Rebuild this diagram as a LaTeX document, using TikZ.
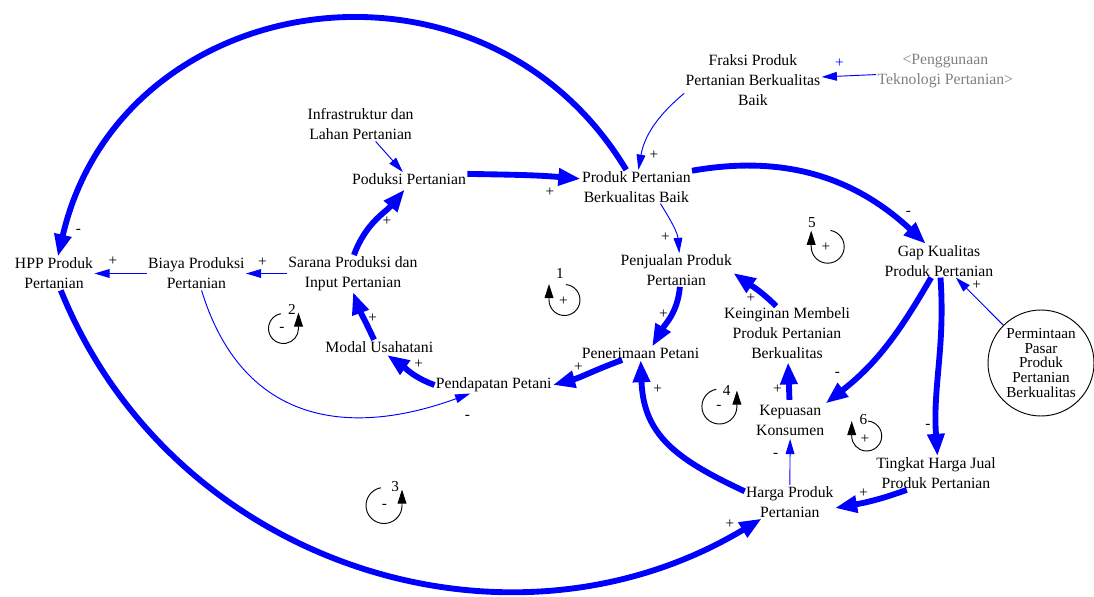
\documentclass[tikz,border=0pt]{standalone}
\usepackage{fontspec}
\setmainfont{Liberation Serif}
\usetikzlibrary{arrows.meta}
\definecolor{ghost}{RGB}{128,128,128}

\begin{document}
\begin{tikzpicture}[x=0.03cm,y=0.03cm,
  var/.style={align=center,inner sep=1pt,font=\fontsize{13.4}{17}\selectfont},
  sgn/.style={inner sep=0pt,font=\fontsize{13}{13}\selectfont},
  lnk/.style={blue,line width=0.8pt,-{Triangle[length=13pt,width=7.5pt]}},
  fat/.style={blue,line width=5pt,-{Triangle[length=19pt,width=14pt]}},
  loopar/.style={line width=0.8pt,-{Triangle[length=12pt,width=7.5pt]}}]
\useasboundingbox (0,0) rectangle (1094,-597);

% variables
\node[var] (hpp) at (54,-273.5) {HPP Produk\\Pertanian};
\node[var] (biaya) at (196.4,-273.5) {Biaya Produksi\\Pertanian};
\node[var] (sarana) at (353,-273.5) {Sarana Produksi dan\\Input Pertanian};
\node[var] (infra) at (360.6,-124.5) {Infrastruktur dan\\Lahan Pertanian};
\node[var] (prod) at (409,-179) {Poduksi Pertanian};
\node[var] (pb) at (636.3,-186.7) {Produk Pertanian\\Berkualitas Baik};
\node[var] (fraksi) at (752.9,-80) {Fraksi Produk\\Pertanian Berkualitas\\Baik};
\node[var,text=ghost] (tek) at (945.3,-71.5) {<Penggunaan\\Teknologi Pertanian>};
\node[var] (gap) at (939,-260.7) {Gap Kualitas\\Produk Pertanian};
\node[var] (jual) at (676.3,-270) {Penjualan Produk\\Pertanian};
\node[var] (terima) at (640.5,-353.3) {Penerimaan Petani};
\node[var] (ingin) at (787,-333) {Keinginan Membeli\\Produk Pertanian\\Berkualitas};
\node[var] (puas) at (790.2,-420) {Kepuasan\\Konsumen};
\node[var] (harga) at (789.8,-501.7) {Harga Produk\\Pertanian};
\node[var] (tingkat) at (936,-473) {Tingkat Harga Jual\\Produk Pertanian};
\node[var] (modal) at (379.3,-346.7) {Modal Usahatani};
\node[var] (dapat) at (493.7,-385) {Pendapatan Petani};
\node[draw,circle,line width=0.8pt,minimum size=3.18cm,inner sep=0pt,align=center,
  font=\fontsize{13}{12.6}\selectfont] (minta) at (1041,-363)
  {Permintaan\\Pasar\\Produk\\Pertanian\\Berkualitas};

% links
\draw[fat] (pb) to[out=121,in=77,looseness=1.24] (hpp);
\draw[fat] (hpp) to[out=-68,in=211,looseness=1.03] (harga);
\draw[fat] (prod.5) to[out=-1,in=175] (pb.172);
\draw[lnk] (infra) -- (prod);
\draw[fat,shorten >=4pt] (sarana.87) to[out=70,in=230] (prod.-100);
\draw[lnk] (sarana) -- (biaya);
\draw[lnk] (biaya) -- (hpp);
\draw[lnk] (biaya) to[out=-73,in=200,looseness=1.2] (dapat);
\draw[fat] (modal.127) to[out=115,in=-70] (sarana.south);
\draw[fat,shorten >=2pt] (dapat.west) to[out=160,in=-35] (modal.-50);
\draw[fat] (terima) to[out=200,in=15] (dapat.east);
\draw[fat] (jual.-78) to[out=-95,in=60] (terima.30);
\draw[lnk] (pb.-35) to[out=-58,in=95] (jual.80);
\draw[lnk] (fraksi.191) to[out=220,in=80] (pb.83);
\draw[lnk] (tek) -- (fraksi);
\draw[fat] (pb.16) to[out=10,in=137] (gap.128);
\draw[fat] (gap.-115) to[out=-120,in=38] (puas.north east);
\draw[fat] (gap.-85) to[out=-86,in=94] (tingkat.85);
\draw[lnk] (minta) -- (gap);
\draw[fat,shorten <=3pt,shorten >=2pt] (puas) -- (ingin);
\draw[fat] (ingin.112) to[out=135,in=-35] (jual.-3);
\draw[lnk,shorten >=2pt] (harga) -- (puas);
\draw[fat] (harga.167) to[out=155,in=-88,looseness=1.15] (terima.-88);
\draw[fat] (tingkat.210) to[out=200,in=10] (harga.-8);

% polarities
\node[sgn] (s1) at (78.3,-231.5) {-};
\node[sgn] (s2) at (550,-191.7) {+};
\node[sgn] (s3) at (387,-220.7) {+};
\node[sgn] (s4) at (262.4,-262.3) {+};
\node[sgn] (s5) at (113,-260.7) {+};
\node[sgn] (s6) at (467.5,-417) {-};
\node[sgn] (s7) at (372.7,-317.7) {+};
\node[sgn] (s8) at (418.7,-364) {+};
\node[sgn] (s9) at (578.3,-367.3) {+};
\node[sgn] (s10) at (663.3,-314) {+};
\node[sgn] (s11) at (665.4,-236.7) {+};
\node[sgn] (s12) at (653.8,-155) {+};
\node[sgn,text=blue] (s13) at (839.3,-63.3) {+};
\node[sgn] (s14) at (908.5,-213.3) {-};
\node[sgn] (s15) at (837.5,-374.3) {-};
\node[sgn] (s16) at (928,-426.7) {-};
\node[sgn] (s17) at (976.7,-285) {+};
\node[sgn] (s18) at (777.5,-389) {+};
\node[sgn] (s19) at (751,-298) {+};
\node[sgn] (s20) at (775.7,-455.7) {-};
\node[sgn] (s21) at (657.7,-389.3) {+};
\node[sgn] (s22) at (863.3,-492.7) {+};
\node[sgn] (s23) at (729.8,-524.3) {+};

% loop markers
\draw[loopar] (564.5,-300) ++(85:15.5) arc[start angle=85,end angle=-180,radius=15.5] -- ++(0,16);
\node[sgn] (l1s) at (563.3,-301) {+};
\node[sgn] (l1n) at (560,-273.3) {1};
\draw[loopar] (283.5,-328.5) ++(100:15) arc[start angle=100,end angle=360,radius=15] -- ++(0,16);
\node[sgn] (l2s) at (282,-329.3) {-};
\node[sgn] (l2n) at (292,-309.5) {2};
\draw[loopar] (384,-505.5) ++(100:18) arc[start angle=100,end angle=360,radius=18] -- ++(0,16);
\node[sgn] (l3s) at (384.4,-506.7) {-};
\node[sgn] (l3n) at (395.3,-486.7) {3};
\draw[loopar] (719.4,-406.5) ++(100:17.5) arc[start angle=100,end angle=360,radius=17.5] -- ++(0,16);
\node[sgn] (l4s) at (719,-407.3) {-};
\node[sgn] (l4n) at (726.6,-390) {4};
\draw[loopar] (827.7,-246.7) ++(80:16.5) arc[start angle=80,end angle=-180,radius=16.5] -- ++(0,16);
\node[sgn] (l5s) at (826,-247) {+};
\node[sgn] (l5n) at (812,-222.7) {5};
\draw[loopar] (866.7,-436) ++(85:15) arc[start angle=85,end angle=-180,radius=15] -- ++(0,15);
\node[sgn] (l6s) at (865,-439.3) {+};
\node[sgn] (l6n) at (863.3,-420) {6};
\end{tikzpicture}
\end{document}
